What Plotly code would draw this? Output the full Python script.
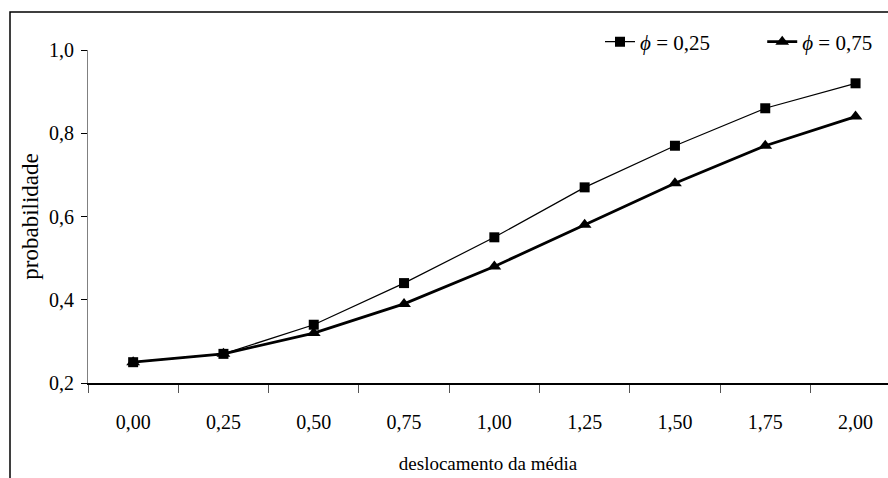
import plotly.graph_objects as go

categories = ["0,00", "0,25", "0,50", "0,75", "1,00", "1,25", "1,50", "1,75", "2,00"]
phi_025 = [0.25, 0.27, 0.34, 0.44, 0.55, 0.67, 0.77, 0.86, 0.92]
phi_075 = [0.25, 0.27, 0.32, 0.39, 0.48, 0.58, 0.68, 0.77, 0.84]
y_ticks = [0.2, 0.4, 0.6, 0.8, 1.0]

FONT = "Liberation Serif"
NB = "\u00a0"

fig = go.Figure()
fig.add_trace(go.Scatter(
    x=categories, y=phi_075, mode="lines+markers",
    name="<i>ϕ</i> = 0,75", legendrank=2,
    line=dict(color="black", width=2.8),
    marker=dict(symbol="triangle-up", size=12, color="black"),
))
fig.add_trace(go.Scatter(
    x=categories, y=phi_025, mode="lines+markers",
    name="<i>ϕ</i> = 0,25" + NB * 9, legendrank=1,
    line=dict(color="black", width=1.2),
    marker=dict(symbol="square", size=10, color="black"),
))

fig.update_layout(
    width=888, height=478, autosize=False,
    margin=dict(l=88, r=0, t=50, b=95),
    paper_bgcolor="white", plot_bgcolor="white",
    separators=",.",
    font=dict(family=FONT, size=20, color="black"),
    showlegend=True,
    legend=dict(orientation="h", x=(600 - 88) / 800, xanchor="left",
                y=1 + (50 - 42) / 333, yanchor="middle",
                font=dict(family=FONT, size=21, color="black"),
                bgcolor="rgba(0,0,0,0)", itemwidth=30, tracegroupgap=0),
    shapes=[dict(type="rect", xref="paper", yref="paper",
                 x0=(10 - 88) / 800, x1=1.2, y0=-0.6, y1=1 + (50 - 12) / 333,
                 line=dict(color="black", width=1.5), layer="below")],
)

fig.update_xaxes(
    type="category", range=[-0.5, -0.5 + 800 / 90.3],
    showline=True, linecolor="black", linewidth=1.5,
    ticks="outside", tickson="boundaries", ticklen=8, tickcolor="#555555", tickwidth=1,
    showgrid=False, zeroline=False,
    tickfont=dict(family=FONT, size=20, color="black"),
    ticklabelstandoff=20,
    title=dict(text="deslocamento da média", font=dict(family=FONT, size=19, color="black"),
               standoff=25),
)
fig.update_yaxes(
    range=[0.2, 1.0], tickvals=y_ticks, tickformat=".1f",
    showline=True, linecolor="#808080", linewidth=1.2,
    ticks="outside", ticklen=6, tickcolor="black", tickwidth=1,
    showgrid=False, zeroline=False,
    tickfont=dict(family=FONT, size=20, color="black"),
    ticklabelstandoff=3,
    title=dict(text="probabilidade", font=dict(family=FONT, size=23, color="black"),
               standoff=3),
)

fig.write_html("out.html")
